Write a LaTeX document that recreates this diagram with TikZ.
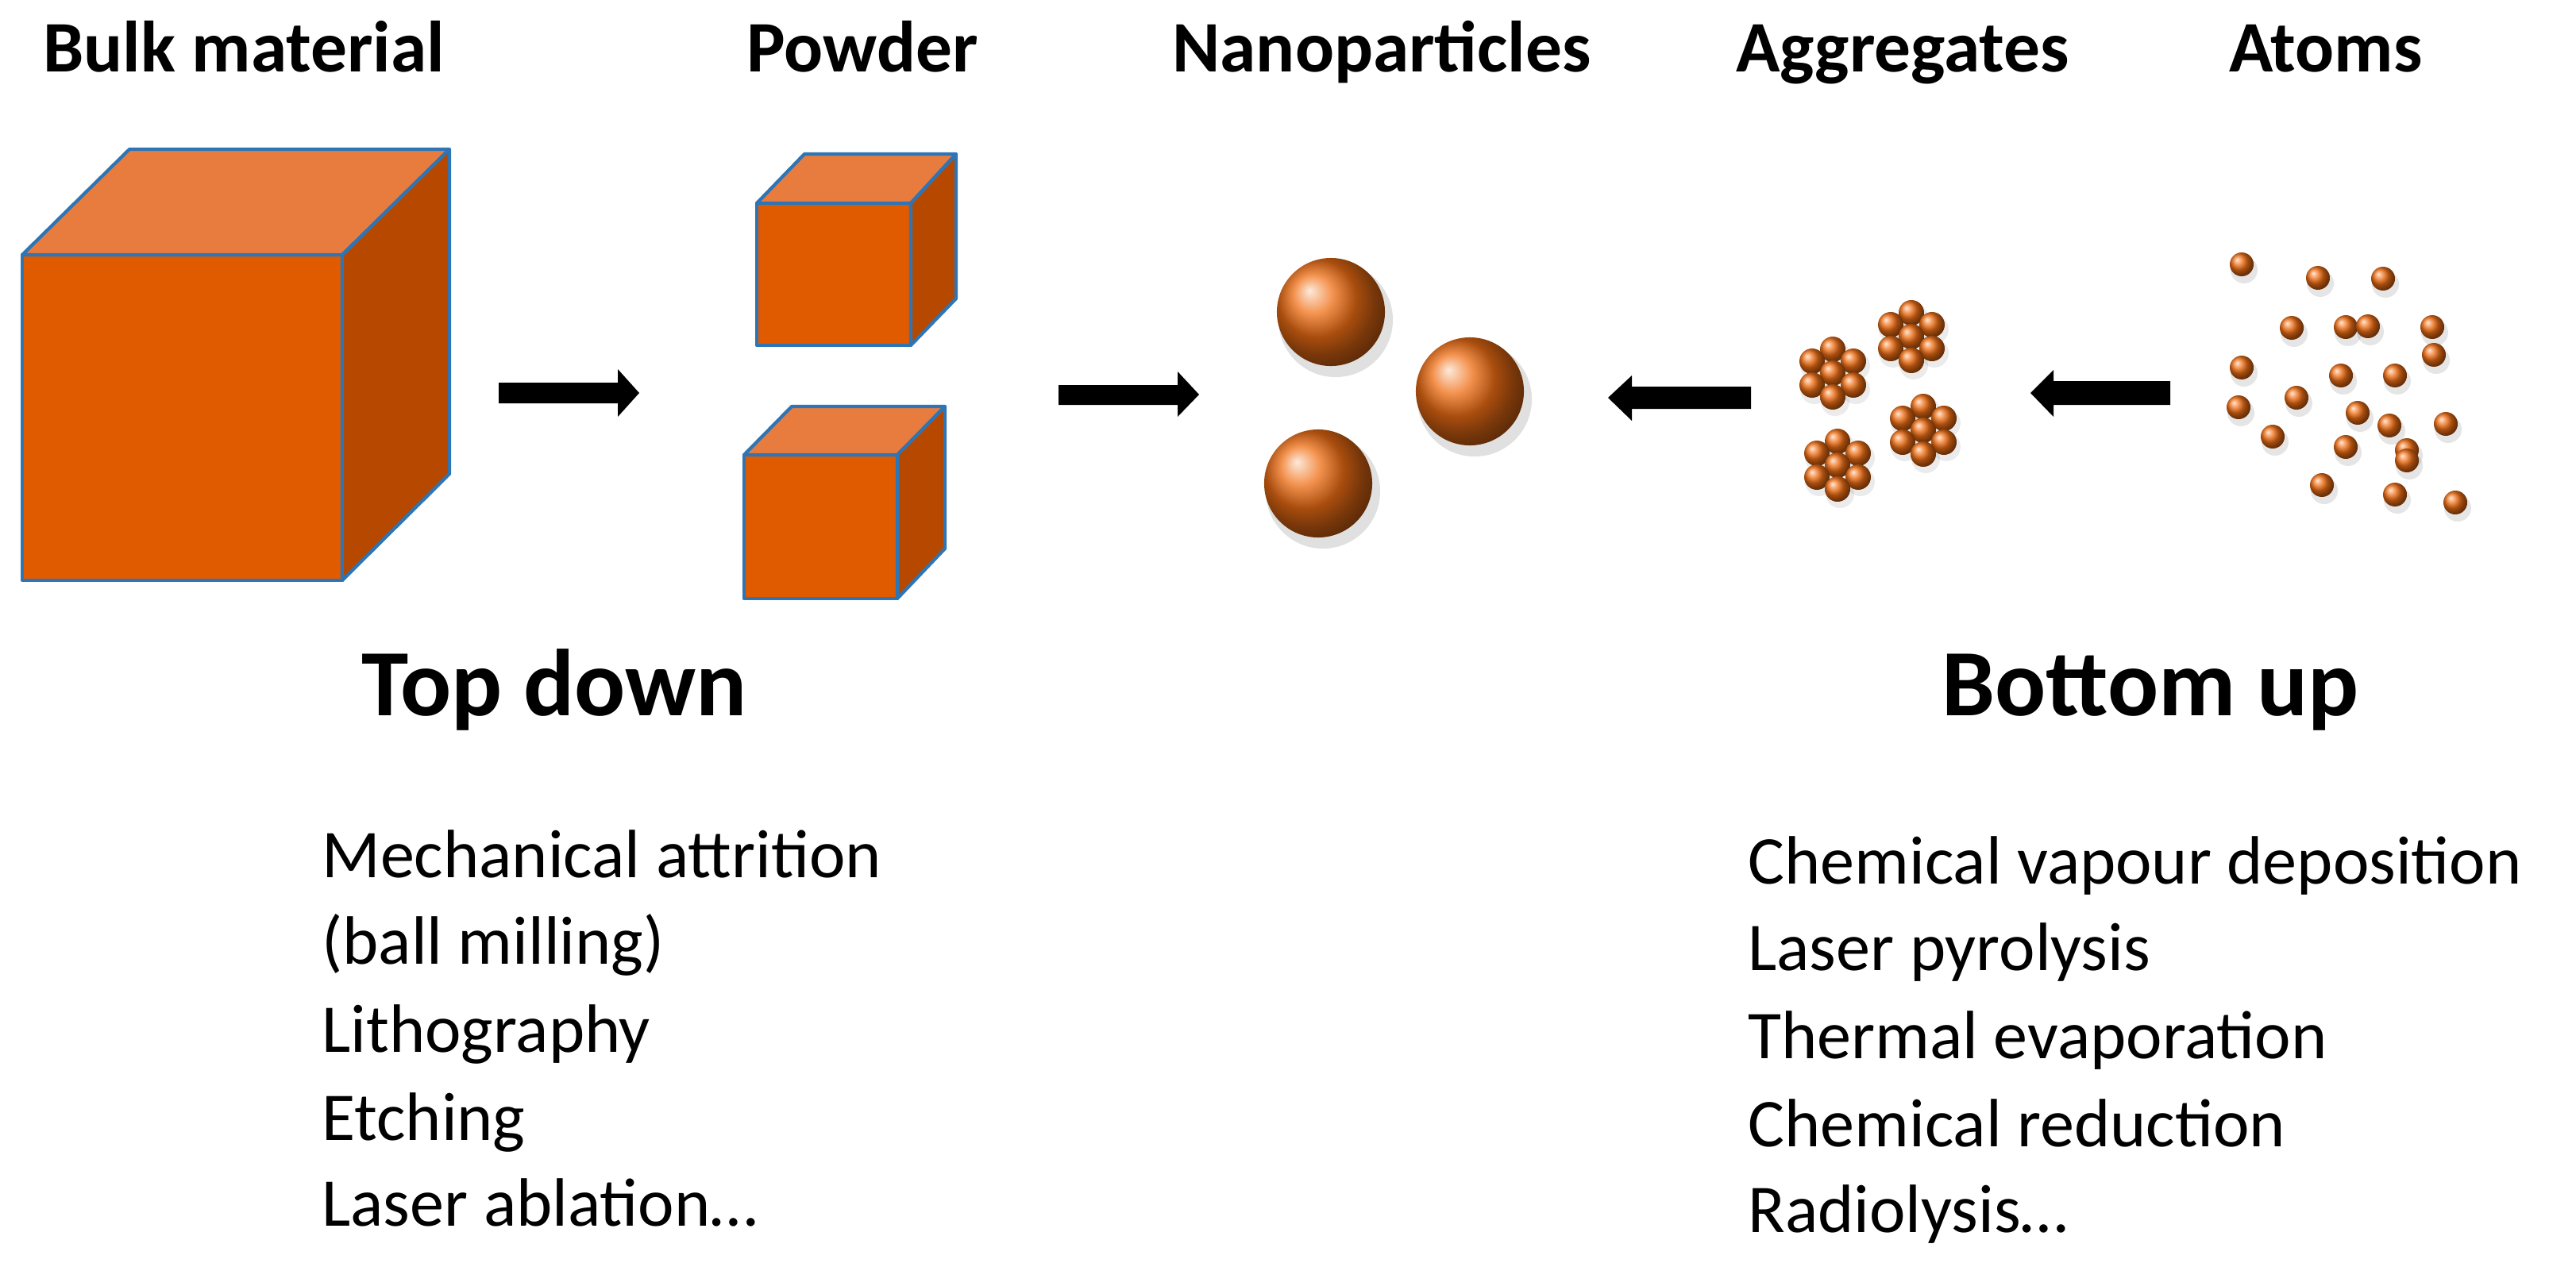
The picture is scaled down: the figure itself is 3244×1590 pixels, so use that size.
\documentclass[tikz,border=0pt]{standalone}
\usepackage{fontspec}
\setmainfont{Carlito}
\definecolor{front}{RGB}{224,90,0}
\definecolor{topc}{RGB}{232,124,62}
\definecolor{side}{RGB}{183,72,0}
\definecolor{edge}{RGB}{46,117,182}
\definecolor{ballc}{RGB}{240,110,20}
\begin{document}
\begin{tikzpicture}[x=0.01cm,y=-0.01cm,
  face/.style={draw=edge,line width=1.2pt,line join=round},
  ttl/.style={anchor=base,font=\fontsize{26}{30}\selectfont\bfseries},
  big/.style={anchor=base,font=\fontsize{34}{40}\selectfont\bfseries},
  item/.style={anchor=base west,font=\fontsize{24.5}{30}\selectfont},
  blk/.style={fill=black}]
\useasboundingbox (0,0) rectangle (3244,1590);
% cube macro via pic
\tikzset{cube/.pic={
  % args via keys below
}}
% Big cube
\filldraw[face,fill=front] (28,321) rectangle (431,731);
\filldraw[face,fill=topc] (28,321) -- (163,188) -- (566,188) -- (431,321) -- cycle;
\filldraw[face,fill=side] (431,321) -- (566,188) -- (566,597) -- (431,731) -- cycle;
% Powder cube 1
\filldraw[face,fill=front] (953,256) rectangle (1147,435);
\filldraw[face,fill=topc] (953,256) -- (1013,194) -- (1204,194) -- (1147,256) -- cycle;
\filldraw[face,fill=side] (1147,256) -- (1204,194) -- (1204,376) -- (1147,435) -- cycle;
% Powder cube 2
\filldraw[face,fill=front] (937,573) rectangle (1130,754);
\filldraw[face,fill=topc] (937,573) -- (997,512) -- (1190,512) -- (1130,573) -- cycle;
\filldraw[face,fill=side] (1130,573) -- (1190,512) -- (1190,691) -- (1130,754) -- cycle;
% Arrows
\fill[blk] (628,482) -- (778,482) -- (778,465) -- (805,495) -- (778,525) -- (778,508) -- (628,508) -- cycle;
\fill[blk] (1333,485) -- (1483,485) -- (1483,468) -- (1510,497) -- (1483,525) -- (1483,510) -- (1333,510) -- cycle;
\fill[blk] (2205,487) -- (2055,487) -- (2055,473) -- (2025,501) -- (2055,530) -- (2055,515) -- (2205,515) -- cycle;
\fill[blk] (2733,480) -- (2586,480) -- (2586,466) -- (2557,495) -- (2586,525) -- (2586,510) -- (2733,510) -- cycle;
% Nanoparticles
\foreach \x/\y in {1676/393,1851/493,1660/609}{
  \fill[black,opacity=0.12] (\x+6,\y+10) circle (0.72cm);
  \shade[ball color=ballc] (\x,\y) circle (0.68cm);
}
% Aggregates
\foreach \cx/\cy in {2407/424,2308/470,2422/542,2314/586}{
  \foreach \a in {90,30,150,210,330,270}{
    \fill[black,opacity=0.08] ({\cx+30*cos(\a)+3},{\cy-30*sin(\a)+6}) circle (0.18cm);
  }
  \foreach \a in {90,30,150}{
    \shade[ball color=ballc] ({\cx+30*cos(\a)},{\cy-30*sin(\a)}) circle (0.16cm);
  }
  \shade[ball color=ballc] (\cx,\cy) circle (0.16cm);
  \foreach \a in {210,330,270}{
    \shade[ball color=ballc] ({\cx+30*cos(\a)},{\cy-30*sin(\a)}) circle (0.16cm);
  }
}
% Atoms
\foreach \x/\y in {2823/333,2919/350,3001/351,2886/413,2954/412,2982/411,3063/412,3065/447,
  2823/463,2948/473,3016/473,2819/513,2892/501,2969/520,3009/536,3080/534,2862/550,
  2954/563,3031/567,3031/580,2924/611,3016/623,3092/633}{
  \fill[black,opacity=0.1] (\x+3,\y+7) circle (0.17cm);
  \shade[ball color=ballc] (\x,\y) circle (0.15cm);
}
% Titles
\node[ttl] (t1) at (307,90) {Bulk material};
\node[ttl] (t2) at (1086,90) {Powder};
\node[ttl] (t3) at (1740,90) {Nanoparticles};
\node[ttl] (t4) at (2396,90) {Aggregates};
\node[ttl] (t5) at (2929,90) {Atoms};
\node[big] (td) at (698,901) {Top down};
\node[big] (bu) at (2708,901) {Bottom up};
% Lists
\node[item] (l1) at (393,1105) {Mechanical attrition};
\node[item] (l2) at (393,1214) {(ball milling)};
\node[item] (l3) at (393,1325) {Lithography};
\node[item] (l4) at (393,1436) {Etching};
\node[item] (l5) at (393,1544) {Laser ablation…};
\node[item] (r1) at (2189,1113) {Chemical vapour deposition};
\node[item] (r2) at (2189,1222) {Laser pyrolysis};
\node[item] (r3) at (2189,1333) {Thermal evaporation};
\node[item] (r4) at (2189,1444) {Chemical reduction};
\node[item] (r5) at (2189,1552) {Radiolysis…};
\end{tikzpicture}
\end{document}
